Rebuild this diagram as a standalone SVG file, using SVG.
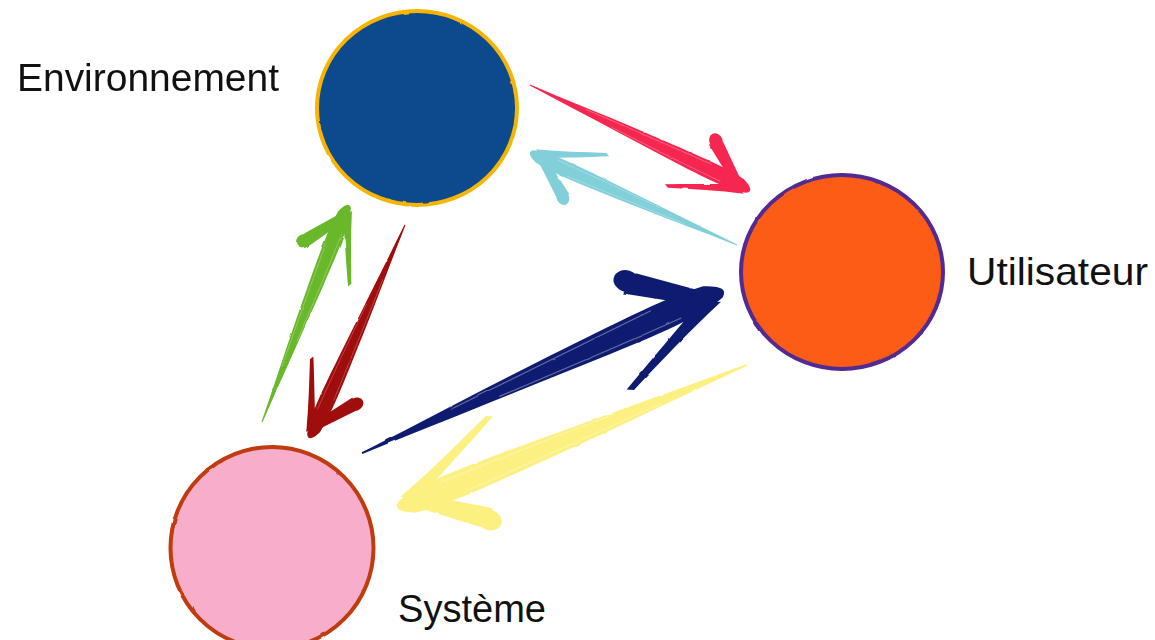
<svg xmlns="http://www.w3.org/2000/svg" xmlns:xlink="http://www.w3.org/1999/xlink" width="1155" height="640" viewBox="0 0 1155 640">
  <style>
    .label { font-family: "Liberation Sans", Arial, sans-serif; font-size: 39px; fill: #111; }
    .disc { stroke-width: 4; }
    .streak { fill: none; stroke: #fff; stroke-opacity: 0.35; stroke-width: 0.7; }
  </style>
  <defs>
    <!-- slight roughness for the painted look -->
    <filter id="rough" x="-5%" y="-5%" width="110%" height="110%">
      <feTurbulence type="fractalNoise" baseFrequency="0.06" numOctaves="2" seed="4" result="n"/>
      <feDisplacementMap in="SourceGraphic" in2="n" scale="2" xChannelSelector="R" yChannelSelector="G"/>
    </filter>
    <!-- brush arrow: tail at (0,0), tip at (240,0) -->
    <g id="brushArrow">
      <path d="M0,-0.5 C40,-2 80,-5 120,-6.5 C165,-8 205,-10.5 230,-7 Q245,-1 238,4 C222,9 195,8.5 155,7 C105,5 50,2.5 0,0.6 Z"/>
      <path d="M210,-6 L230,-3 L196,-31 L184,-23 Z"/>
      <ellipse cx="189" cy="-29" rx="8" ry="6.5" transform="rotate(40 189 -29)"/>
      <path d="M224,1 C206,10 184,20 162,31 L166,33 C188,24 212,14 236,6 Z"/>
      <path class="streak" d="M60,-2 C110,-4 150,-5 195,-6.5"/>
      <path class="streak" d="M90,3 C130,4 170,5 210,5"/>
    </g>
  </defs>

  <rect width="1155" height="640" fill="#fff"/>

  <g id="connectors" filter="url(#rough)">
    <use id="env-to-user" xlink:href="#brushArrow" href="#brushArrow" fill="#f5284f" transform="translate(530 85) rotate(25.5) scale(1.016)"/>
    <use id="user-to-env" xlink:href="#brushArrow" href="#brushArrow" fill="#80cfd9" transform="translate(737 245) rotate(203.96) scale(0.944)"/>
    <use id="sys-to-env" xlink:href="#brushArrow" href="#brushArrow" fill="#68b82b" transform="translate(262 422) rotate(-68.4) scale(0.973)"/>
    <use id="env-to-sys" xlink:href="#brushArrow" href="#brushArrow" fill="#a00808" transform="translate(405 225) rotate(114.04) scale(0.972)"/>
    <use id="sys-to-user" xlink:href="#brushArrow" href="#brushArrow" fill="#111e70" transform="translate(362 453) rotate(-24.3) scale(1.65)"/>
    <use id="user-to-sys" xlink:href="#brushArrow" href="#brushArrow" fill="#fcf080" transform="translate(747 365) rotate(157.7) scale(1.572)"/>
  </g>

  <g id="environnement">
    <ellipse class="disc" cx="417" cy="108" rx="100" ry="97" fill="#0b4a8d" stroke="#f7b400" filter="url(#rough)"/>
    <text class="label" x="17" y="91" textLength="262" lengthAdjust="spacingAndGlyphs">Environnement</text>
  </g>

  <g id="utilisateur">
    <ellipse class="disc" cx="842" cy="272" rx="101" ry="97" fill="#fd5b12" stroke="#512a93" filter="url(#rough)"/>
    <text class="label" x="967" y="285" textLength="181" lengthAdjust="spacingAndGlyphs">Utilisateur</text>
  </g>

  <g id="systeme">
    <ellipse class="disc" cx="272" cy="548" rx="101.5" ry="101" fill="#f8aecb" stroke="#c03a10" filter="url(#rough)"/>
    <text class="label" x="398" y="622" textLength="148" lengthAdjust="spacingAndGlyphs">Système</text>
  </g>
</svg>
